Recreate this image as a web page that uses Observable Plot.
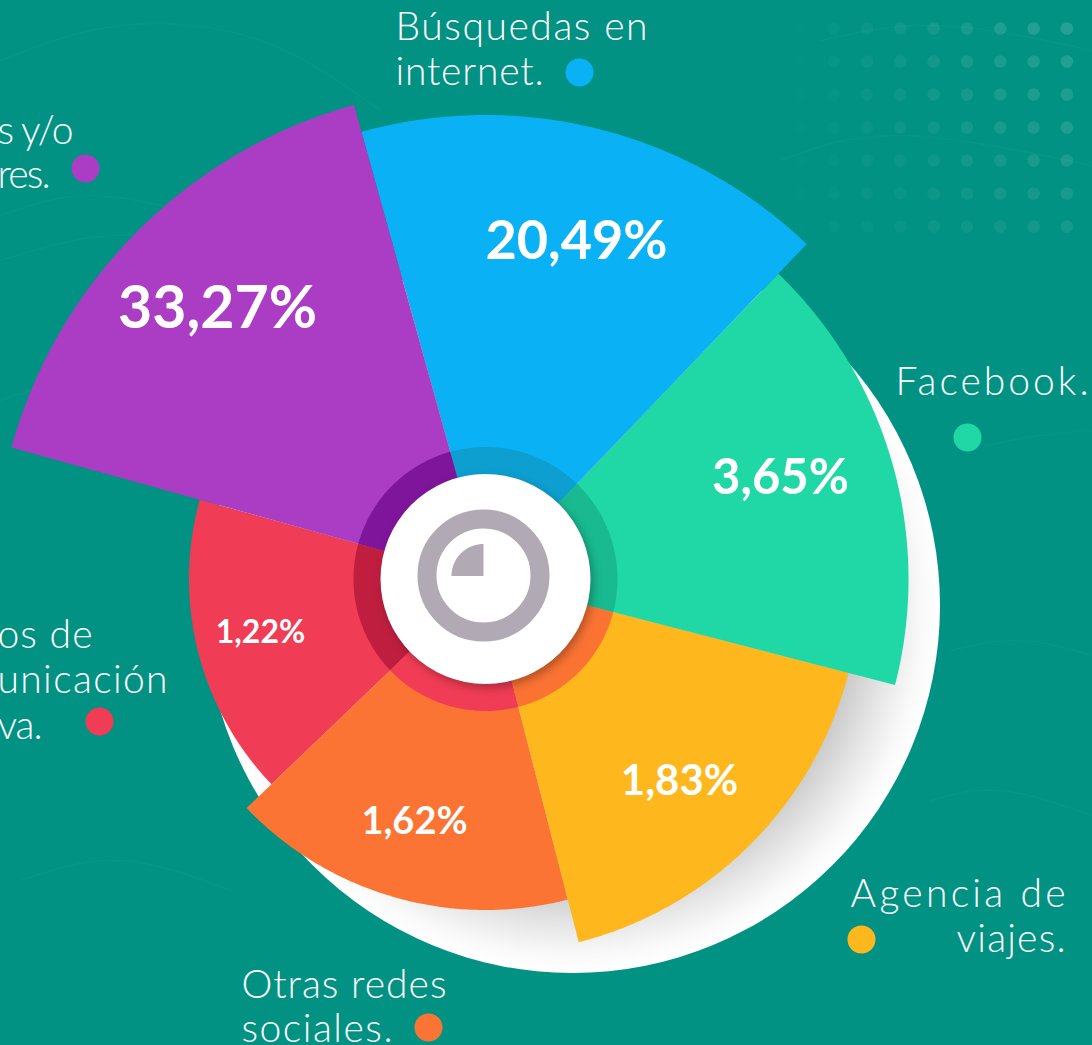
<!DOCTYPE html>
<html lang="es">
<head>
<meta charset="utf-8">
<script src="https://cdn.jsdelivr.net/npm/d3@7"></script>
<script src="https://cdn.jsdelivr.net/npm/@observablehq/plot@0.6"></script>
<style>
html,body{margin:0;padding:0;background:#019283;overflow:hidden}
svg{display:block}
.hub{filter:drop-shadow(3px 4px 4px rgba(0,0,0,.28))}
</style>
</head>
<body>
<div id="chart"></div>
<script>
// Data
const sliceNames = ["Medios de comunicación masiva","Otras redes sociales","Agencia de viajes","Facebook","Búsquedas en internet","Amigos y/o familiares"];
const sliceValues = [1.22, 1.62, 1.83, 3.65, 20.49, 33.27];
const sliceReach = [296.5, 331, 375, 423, 464, 492];
const sliceStart = [226.2, 165.6, 104.5, 43.8, -15.5, -74.5];
const sliceEnd = [285.5, 226.2, 165.6, 104.5, 43.8, -15.5];
const sliceColors = ["#f03c54","#fc7433","#feb71c","#20d8a6","#0bb1f5","#aa3dc4"];
const ringColors = ["#c01e3f","#f03c54","#fb7333","#19ba8f","#0d9fd0","#7f159b"];
const legendLines = [
  ["s y/o","res."],
  ["os de","unicación","va."],
  ["Otras redes","sociales."],
  ["Agencia de","viajes."],
  ["Facebook."],
  ["Búsquedas en","internet."]
];
const streaks = [
  [[0,60],[120,25],[260,40],[380,110]],
  [[0,260],[110,235],[230,250],[330,300]],
  [[0,215],[90,195],[200,215]],
  [[985,445],[1040,435],[1092,430]],
  [[950,650],[1020,640],[1092,655]],
  [[930,800],[1000,790],[1092,815]],
  [[20,880],[120,860],[230,890]],
  [[0,400],[60,385],[130,395]],
  [[780,160],[900,135],[1092,165]],
  [[820,40],[940,25],[1092,50]]
];

// Layout
const W = 1092, H = 1045;
const hub = {x:485, y:578.5};
const font = "Lato, 'Open Sans', sans-serif";
const rad = d => d * Math.PI / 180;
function sector(start, end, r, cx = hub.x, cy = hub.y) {
  const pts = [{x:cx, y:cy}];
  for (let a = start; a < end; a += 0.5) pts.push({x:cx + r*Math.sin(rad(a)), y:cy - r*Math.cos(rad(a))});
  pts.push({x:cx + r*Math.sin(rad(end)), y:cy - r*Math.cos(rad(end))});
  return pts;
}
const sliceText = sliceValues.map(v => v.toFixed(2).replace(".", ",") + "%");
const sliceLabelAt = [[260,632,32],[414,821,38],[679,781,42],[780,478,49],[576,241,54],[217,309,59]];
const legendAt = [
  {dot:[85,168], anchor:"end", lines:[[73,131,76],[50,175,53]]},
  {dot:[99,721], anchor:"end", lines:[[92,635,95],[167,680,170],[42,726,45]]},
  {dot:[428,1027], anchor:"start", lines:[[241,985,205],[241,1029,151]]},
  {dot:[861,939], anchor:"end", lines:[[1065,894,215],[1065,939,109]]},
  {dot:[967,437], anchor:"start", lines:[[895,382,193]]},
  {dot:[579,72], anchor:"start", lines:[[395,27,252],[395,72,148]]}
];
const gridX = d3.range(9), gridY = d3.range(7);
const grid = d3.cross(gridX, gridY).map(([i,j]) => ({x:800+i*33.3, y:28+j*33, o:0.012+0.016*i*(1-j*0.08)}));

const defs = () => {
  const s = d3.create("svg:defs");
  const g = s.append("radialGradient").attr("id","plate");
  [[0.70,"#c4c4c4"],[0.78,"#cdcdcd"],[0.87,"#e6e6e6"],[0.95,"#f9f9f9"],[1,"#ffffff"]]
    .forEach(([o,c]) => g.append("stop").attr("offset",o).attr("stop-color",c));
  return s.node();
};

const plot = Plot.plot({
  width:W, height:H, margin:0,
  x:{domain:[0,W], range:[0,W], axis:null},
  y:{domain:[0,H], range:[0,H], axis:null},
  style:{background:"#019283", fontFamily:font},
  marks:[
    defs,
    ...streaks.map(s => Plot.line(s, {x:d => d[0], y:d => d[1], curve:"natural", stroke:"#fff", strokeOpacity:0.03, strokeWidth:1.5})),
    Plot.dot(grid, {x:"x", y:"y", r:6.3, fill:"#fff", fillOpacity:"o"}),
    Plot.dot([{x:572,y:605}], {x:"x", y:"y", r:367.5, fill:"url(#plate)"}),
    ...sliceNames.map((n,i) => Plot.line(sector(sliceStart[i], sliceEnd[i], sliceReach[i]), {x:"x", y:"y", fill:sliceColors[i], stroke:"none", title:() => n})),
    ...sliceNames.map((n,i) => Plot.line(sector(sliceStart[i], sliceEnd[i], 132), {x:"x", y:"y", fill:ringColors[i], stroke:"none"})),
    Plot.dot([hub], {x:"x", y:"y", r:105, fill:"#fff", className:"hub"}),
    Plot.dot([{x:483,y:575}], {x:"x", y:"y", r:56.5, fill:"none", stroke:"#b1a9b3", strokeWidth:19}),
    Plot.line(sector(-90, 0, 32, 483, 575.5), {x:"x", y:"y", fill:"#b1a9b3", stroke:"none"}),
    ...sliceText.map((t,i) => Plot.text([t], {x:sliceLabelAt[i][0], y:sliceLabelAt[i][1], text:d => d, fill:"#fff", fontSize:sliceLabelAt[i][2], fontWeight:700, fontFamily:font})),
    ...legendLines.flatMap((lines,i) => lines.map((t,k) => Plot.text([t], {x:legendAt[i].lines[k][0], y:legendAt[i].lines[k][1], text:d => d, fill:"#fff", fontSize:39, fontWeight:300, textAnchor:legendAt[i].anchor, fontFamily:font, className:"legend"}))),
    ...legendAt.map((l,i) => Plot.dot([l.dot], {x:d => d[0], y:d => d[1], r:14, fill:sliceColors[[5,0,1,2,3,4][i]]}))
  ]
});
const lineWidths = legendAt.flatMap(l => l.lines.map(p => p[2]));
d3.select(plot).selectAll(".legend text").attr("textLength", (d,i) => lineWidths[i]).attr("lengthAdjust","spacing");
document.getElementById("chart").append(plot);
</script>
</body>
</html>
